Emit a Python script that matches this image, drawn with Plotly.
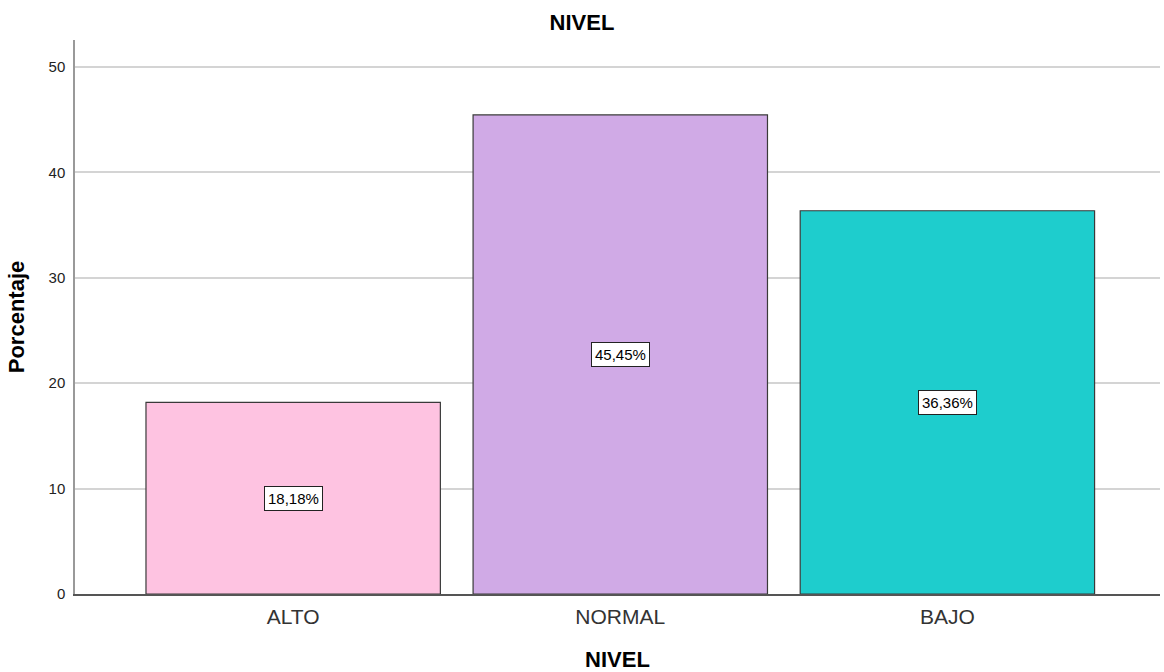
import plotly.graph_objects as go

categories = ["ALTO", "NORMAL", "BAJO"]
values = [18.18, 45.45, 36.36]
labels = ["18,18%", "45,45%", "36,36%"]
colors = ["#FEC3E1", "#D0AAE6", "#1ECDCD"]
yticks = [0, 10, 20, 30, 40, 50]

xpos = list(range(len(categories)))
FONT = "Liberation Sans, Arial, sans-serif"

fig = go.Figure()
fig.add_trace(go.Bar(
    x=xpos, y=values, width=0.9,
    marker=dict(color=colors, line=dict(color="#3a3a3a", width=1.2)),
    hoverinfo="skip", showlegend=False,
))

for xi, v, lab in zip(xpos, values, labels):
    fig.add_annotation(
        x=xi, y=v / 2, text=lab, showarrow=False,
        font=dict(family=FONT, size=15, color="#000"),
        bgcolor="white", bordercolor="#222", borderwidth=1, borderpad=3,
    )

fig.update_layout(
    width=1164, height=672,
    margin=dict(l=75, r=4, t=40, b=78),
    paper_bgcolor="white", plot_bgcolor="white",
    font=dict(family=FONT, color="#000"),
    title=dict(text="<b>NIVEL</b>", x=0.5, xref="container", xanchor="center",
               y=1 - 22 / 672, yref="container", yanchor="middle",
               font=dict(size=22, color="#000")),
)

fig.update_xaxes(
    range=[-0.667, 2.65], tickvals=xpos, ticktext=categories, automargin=False,
    showgrid=False, zeroline=False, showline=True, linecolor="#555", linewidth=1.5,
    ticks="", ticklabelstandoff=3, tickfont=dict(size=21, color="#333"),
    title=dict(text="<b>NIVEL</b>", font=dict(size=22, color="#000"), standoff=27),
)
fig.update_yaxes(
    range=[0, 52.56], tickvals=yticks, automargin=False,
    showgrid=True, gridcolor="#d4d4d4", gridwidth=1.5, zeroline=False,
    showline=True, linecolor="#999", linewidth=1.5,
    ticks="", ticklabelstandoff=5, tickfont=dict(size=15, color="#222"),
    title=dict(text="<b>Porcentaje</b>", font=dict(size=22, color="#000"), standoff=18),
)

fig.write_html(
    "out.html",
    config={"displayModeBar": False},
    post_script="document.body.style.margin='0';document.body.style.overflow='hidden';",
)
